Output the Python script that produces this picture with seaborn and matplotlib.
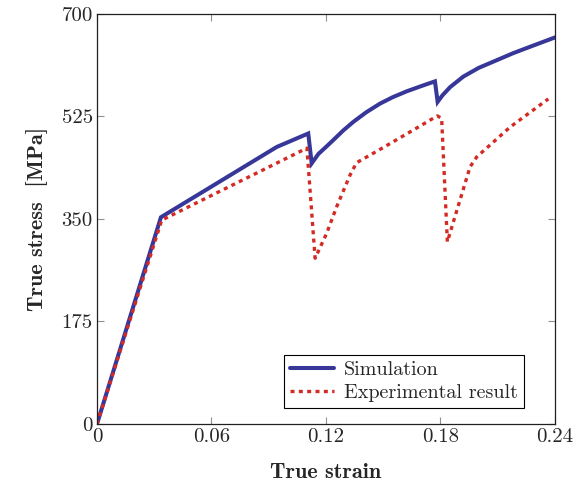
import matplotlib
matplotlib.use("Agg")
import matplotlib.pyplot as plt
import seaborn as sns
import pandas as pd

# Simulation curve (true strain, true stress MPa)
sim_strain = [0.0, 0.0335, 0.0942, 0.1107, 0.1125, 0.1160, 0.1200, 0.1239, 0.1290,
              0.1344, 0.1410, 0.1483, 0.1550, 0.1623, 0.1700, 0.1771, 0.1785, 0.1810,
              0.1850, 0.1919, 0.2000, 0.2094, 0.2180, 0.2269, 0.2400]
sim_stress = [0, 353, 473, 496, 445, 461, 473, 485, 501, 516, 532, 547, 558, 568, 577,
              585, 550, 561, 575, 593, 608, 621, 633, 644, 660]

# Experimental curve
exp_strain = [0.0, 0.0339, 0.1100, 0.1143, 0.1204, 0.1256, 0.1326, 0.1360, 0.1500,
              0.1658, 0.1783, 0.1806, 0.1836, 0.1860, 0.1955, 0.1990, 0.2165, 0.2365]
exp_stress = [0, 348, 471, 283, 326, 371, 425, 446, 472, 502, 526, 522, 311, 337, 439,
              456, 507, 555]

x_ticks = [0, 0.06, 0.12, 0.18, 0.24]
x_labels = ["0", "0.06", "0.12", "0.18", "0.24"]
y_ticks = [0, 175, 350, 525, 700]

sns.set_style("ticks")
plt.rcParams["font.family"] = ["cmr10", "DejaVu Serif"]
plt.rcParams["mathtext.fontset"] = "cm"
plt.rcParams["axes.formatter.use_mathtext"] = True

sim = pd.DataFrame({"strain": sim_strain, "stress": sim_stress})
exp = pd.DataFrame({"strain": exp_strain, "stress": exp_stress})

fig = plt.figure(figsize=(5.75, 4.86), dpi=100)
ax = fig.add_axes([0.1687, 0.1276, 0.7965, 0.8436])

sns.lineplot(data=sim, x="strain", y="stress", ax=ax, color="#37379a",
             linewidth=2.9, estimator=None, sort=False, label="Simulation")
sns.lineplot(data=exp, x="strain", y="stress", ax=ax, color="#d42a24",
             linewidth=2.4, estimator=None, sort=False, label="Experimental result")
ax.lines[0].set_solid_joinstyle("miter")
ax.lines[1].set_linestyle((0, (1.2, 1.3)))
ax.lines[1].set_dash_capstyle("butt")

ax.set_xlim(0, 0.24)
ax.set_ylim(0, 700)
ax.set_xticks(x_ticks)
ax.set_xticklabels(x_labels)
ax.set_yticks(y_ticks)
ax.set_yticklabels([str(v) for v in y_ticks])
ax.tick_params(direction="in", length=5, width=0.8, color="#909090",
               top=True, right=True, labelsize=15, pad=3)
for s in ax.spines.values():
    s.set_color("#202020")
    s.set_linewidth(0.9)

ax.set_xlabel("True strain", fontfamily="cmb10", fontsize=16, labelpad=12)
ax.set_ylabel("True stress  [MPa]", fontfamily="cmb10", fontsize=16, labelpad=10)

leg = ax.legend(loc="lower right", bbox_to_anchor=(0.932, 0.039), borderaxespad=0,
                fancybox=False, framealpha=1, edgecolor="black", fontsize=14.5,
                handlelength=2.2, handletextpad=0.5, borderpad=0.3, labelspacing=0.25)
leg.get_frame().set_linewidth(0.8)
for h in leg.get_lines():
    h.set_dash_capstyle("butt")

fig.savefig("out.png", dpi=100)
